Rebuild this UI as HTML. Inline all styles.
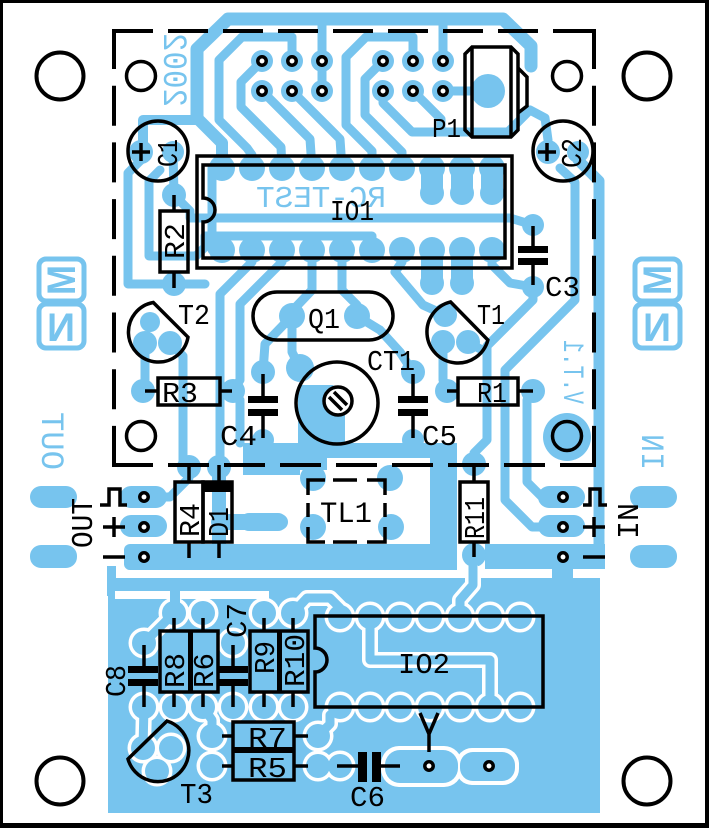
<!DOCTYPE html>
<html><head><meta charset="utf-8">
<style>
html,body{margin:0;padding:0;background:#fff;}
svg{display:block;}
text{font-family:"Liberation Mono",monospace;}
.lg{font-family:"Liberation Sans",sans-serif;font-weight:bold;}
</style></head><body>
<svg xmlns="http://www.w3.org/2000/svg" width="709" height="828" viewBox="0 0 709 828">
<rect width="709" height="828" fill="#fff"/>

<!-- ===== BLUE COPPER FILLS ===== -->
<g fill="#77c4ee">
  <!-- lower plane -->
  <rect x="108" y="578" width="492" height="235"/>
  <rect x="107" y="566" width="9" height="30"/>
  <rect x="552" y="566" width="21" height="14"/>
  <!-- ground bands -->
  <rect x="124" y="544" width="331" height="26" rx="6"/>
  <rect x="485" y="544" width="120" height="25"/>
  <rect x="430" y="443" width="27" height="127"/>
  <rect x="243" y="443" width="214" height="15"/>
  <rect x="243" y="443" width="57" height="32"/>
  <rect x="300" y="455" width="27" height="15"/>
  <!-- TL1 pads -->
  <circle cx="313" cy="478" r="13"/><circle cx="390" cy="478" r="13"/>
  <circle cx="313" cy="527" r="13"/><circle cx="391" cy="527" r="13"/>
  <rect x="240" y="513" width="47" height="18" rx="9"/>
  <!-- OUT pills / pads -->
  <rect x="30" y="486" width="47" height="22" rx="11"/>
  <rect x="30" y="545" width="47" height="23" rx="11"/>
  <rect x="120" y="486" width="47" height="22" rx="11"/>
  <rect x="120" y="515" width="47" height="22" rx="11"/>
  <!-- IN pills / pads -->
  <rect x="630" y="486" width="47" height="22" rx="11"/>
  <rect x="630" y="545" width="47" height="23" rx="11"/>
  <rect x="538" y="486" width="47" height="22" rx="11"/>
  <rect x="538" y="515" width="47" height="22" rx="11"/>
  <!-- header pins -->
  <circle cx="262" cy="61" r="11"/><circle cx="292" cy="61" r="11"/><circle cx="322" cy="61" r="11"/>
  <circle cx="262" cy="91" r="11"/><circle cx="292" cy="91" r="11"/><circle cx="322" cy="91" r="11"/>
  <circle cx="383" cy="61" r="11"/><circle cx="413" cy="61" r="11"/><circle cx="443" cy="61" r="11"/>
  <circle cx="383" cy="91" r="11"/><circle cx="413" cy="91" r="11"/><circle cx="443" cy="91" r="11"/>
  <!-- P1 pad -->
  <circle cx="488" cy="91" r="17"/>
  <!-- IO1 pads -->
  <circle cx="222" cy="168" r="13"/><circle cx="252" cy="168" r="13"/><circle cx="282" cy="168" r="13"/><circle cx="312" cy="168" r="13"/><circle cx="342" cy="168" r="13"/>
  <circle cx="372" cy="168" r="13"/><circle cx="402" cy="168" r="13"/><circle cx="432" cy="168" r="13"/><circle cx="462" cy="168" r="13"/><circle cx="492" cy="168" r="13"/>
  <circle cx="222" cy="250" r="13"/><circle cx="252" cy="250" r="13"/><circle cx="282" cy="250" r="13"/><circle cx="312" cy="250" r="13"/><circle cx="342" cy="250" r="13"/>
  <circle cx="372" cy="250" r="13"/><circle cx="402" cy="250" r="13"/><circle cx="432" cy="250" r="13"/><circle cx="462" cy="250" r="13"/><circle cx="492" cy="250" r="13"/>
  <circle cx="432" cy="193" r="12"/><circle cx="462" cy="193" r="12"/><circle cx="492" cy="193" r="12"/>
  <rect x="421" y="168" width="22" height="25"/><rect x="451" y="168" width="22" height="25"/><rect x="481" y="168" width="22" height="25"/>
  <circle cx="432" cy="283" r="12"/><circle cx="462" cy="283" r="12"/>
  <rect x="421" y="250" width="22" height="33"/><rect x="451" y="250" width="22" height="33"/>
  <!-- C1 / C2 / R2 / C3 pads -->
  <circle cx="141" cy="152" r="12"/><circle cx="173" cy="152" r="11"/>
  <circle cx="548" cy="152" r="12"/><circle cx="578" cy="152" r="11"/>
  <circle cx="174" cy="195" r="12"/><circle cx="174" cy="284" r="12"/>
  <circle cx="533" cy="225" r="11"/><circle cx="533" cy="287" r="11"/>
  <!-- T2 / T1 -->
  <circle cx="145" cy="343" r="12"/><circle cx="170" cy="343" r="12"/><circle cx="150" cy="322" r="10"/>
  <circle cx="445" cy="315" r="12"/><circle cx="443" cy="342" r="12"/><circle cx="468" cy="342" r="12"/>
  <!-- R3 / R1 / C4 / C5 -->
  <circle cx="143" cy="391" r="12"/><circle cx="233" cy="391" r="12"/>
  <circle cx="447" cy="391" r="12"/><circle cx="533" cy="391" r="12"/>
  <circle cx="263" cy="372" r="12"/><circle cx="263" cy="440" r="11"/>
  <circle cx="413" cy="372" r="12"/><circle cx="413" cy="440" r="11"/>
  <!-- Q1 / CT1 -->
  <circle cx="292" cy="316" r="13"/><circle cx="357" cy="316" r="13"/>
  <circle cx="300" cy="368" r="14"/>
  <polygon points="298,385 333,385 345,398 345,445 298,445"/>
  <!-- R4 / D1 / R11 -->
  <circle cx="189" cy="467" r="12"/><circle cx="189" cy="557" r="12"/>
  <circle cx="219" cy="467" r="12"/><circle cx="219" cy="557" r="12"/>
  <circle cx="474" cy="464" r="12"/><circle cx="474" cy="555" r="12"/>
  <!-- inner hole pad -->
  <circle cx="567" cy="437" r="24"/>
</g>

<!-- ===== BLUE TRACES ===== -->
<g fill="none" stroke="#77c4ee" stroke-width="9" stroke-linejoin="round" stroke-linecap="round">
  <path d="M197,118 L197,49 L228,19 L503,19 L531,46 L531,66" stroke-width="13"/>
  <path d="M197,112 L197,118 L222,143 L222,168" stroke-width="12"/>
  <path d="M143,152 L143,120 L197,120" stroke-width="10"/>
  <path d="M322,19 L322,91"/>
  <path d="M443,19 L443,61"/>
  <path d="M292,61 L292,37 L242,37 L219,60 L219,120 L247,148 L252,155 L252,168"/>
  <path d="M262,61 L241,82 L241,107 L281,147 L282,168"/>
  <path d="M262,91 L310,139 L312,168"/>
  <path d="M292,91 L340,139 L342,168"/>
  <path d="M413,61 L413,37 L366,37 L346,57 L346,125 L372,151 L372,168"/>
  <path d="M383,61 L365,79 L365,115 L402,152 L402,168"/>
  <path d="M383,91 L383,103 L412,132 L508,132 L530,110 L545,118 L548,140"/>
  <path d="M413,91 L441,119 L441,132"/>
  <path d="M443,91 L472,91"/>
  <path d="M578,160 L599,181 L599,556" stroke-width="11"/>
  <path d="M560,168 L575,182 L575,300 L505,370 L505,500 L532,527 L563,527"/>
  <path d="M533,287 L533,300 L487,346 L487,440 L474,453 L474,464"/>
  <path d="M533,391 L527,400 L527,482 L542,497 L563,497"/>
  <path d="M492,250 L492,265 L510,283 L533,287"/>
  <path d="M174,195 L190,211 L190,218 L510,218 L533,225"/>
  <path d="M160,170 L149,181 L149,256 L196,256 L205,247 L205,236 L372,236 L372,250"/>
  <path d="M212,168 L212,250"/>
  <path d="M141,160 L128,173 L128,284 L205,284"/>
  <path d="M173,152 L174,195"/>
  <path d="M145,343 L145,391"/>
  <path d="M170,343 L183,356 L183,460 L189,467"/>
  <path d="M252,250 L252,262 L220,294 L220,467"/>
  <path d="M282,250 L282,262 L240,304 L240,380 L233,391"/>
  <path d="M240,400 L240,443"/>
  <path d="M292,316 L265,344 L263,372"/>
  <path d="M312,250 L312,290 L293,310"/>
  <path d="M342,250 L342,290 L357,305 L357,316"/>
  <path d="M300,368 L292,352 L292,316"/>
  <path d="M357,316 L380,330 L400,352 L413,372"/>
  <path d="M402,250 L402,262 L395,272 L423,305 L445,315"/>
  <path d="M443,342 L443,380 L447,391"/>
  <path d="M468,342 L482,350"/>
  <path d="M160,497 L170,497 L189,478 L189,467"/>
  <path d="M219,475 L219,550" stroke-width="14"/>
  <path d="M219,522 L280,522" stroke-width="16"/>
</g>

<!-- ===== PLANE ISOLATION (white) ===== -->
<g fill="#fff">
  <rect x="115" y="591" width="55" height="8"/>
  <rect x="180" y="591" width="89" height="8"/>
</g>
<g fill="none" stroke="#fff" stroke-width="16" stroke-linejoin="round" stroke-linecap="round">
  <path d="M144,643 L160,627 L174,613"/>
  <path d="M293,613 L307,598 L330,598 L340,608 L340,617"/>
  <path d="M473,572 L473,585 L460,600 L460,617"/>
  <path d="M370,617 L370,660 L490,660 L490,707"/>
  <path d="M318,736 L330,724 L330,715 L340,707"/>
  <path d="M318,766 L340,766"/>
  <path d="M203,707 L212,720 L212,736"/>
  <path d="M144,707 L143,748"/>
</g>
<g fill="#fff">
  <circle cx="174" cy="613" r="15.5"/><circle cx="203" cy="613" r="15.5"/><circle cx="264" cy="613" r="15.5"/><circle cx="293" cy="613" r="15.5"/>
  <circle cx="144" cy="643" r="15.5"/><circle cx="233" cy="643" r="15.5"/>
  <circle cx="144" cy="707" r="15.5"/><circle cx="174" cy="707" r="15.5"/><circle cx="203" cy="707" r="15.5"/><circle cx="233" cy="707" r="15.5"/><circle cx="264" cy="707" r="15.5"/><circle cx="293" cy="707" r="15.5"/>
  <circle cx="340" cy="617" r="15.5"/><circle cx="370" cy="617" r="15.5"/><circle cx="400" cy="617" r="15.5"/><circle cx="430" cy="617" r="15.5"/><circle cx="460" cy="617" r="15.5"/><circle cx="490" cy="617" r="15.5"/><circle cx="520" cy="617" r="15.5"/>
  <circle cx="340" cy="707" r="15.5"/><circle cx="370" cy="707" r="15.5"/><circle cx="400" cy="707" r="15.5"/><circle cx="430" cy="707" r="15.5"/><circle cx="460" cy="707" r="15.5"/><circle cx="490" cy="707" r="15.5"/><circle cx="520" cy="707" r="15.5"/>
  <circle cx="143" cy="748" r="15.5"/><circle cx="171" cy="748" r="15.5"/><circle cx="157" cy="771" r="15.5"/>
  <circle cx="212" cy="736" r="15.5"/><circle cx="318" cy="736" r="15.5"/><circle cx="212" cy="766" r="15.5"/><circle cx="318" cy="766" r="15.5"/>
  <circle cx="340" cy="766" r="15.5"/>
  <rect x="381" y="746" width="81" height="41" rx="18"/>
  <rect x="456" y="748" width="63" height="37" rx="16"/>
</g>
<g fill="#77c4ee">
  <rect x="170" y="585" width="10" height="20"/>
  <circle cx="174" cy="613" r="12"/><circle cx="203" cy="613" r="12"/><circle cx="264" cy="613" r="12"/><circle cx="293" cy="613" r="12"/>
  <circle cx="144" cy="643" r="12"/><circle cx="233" cy="643" r="12"/>
  <circle cx="144" cy="707" r="12"/><circle cx="174" cy="707" r="12"/><circle cx="203" cy="707" r="12"/><circle cx="233" cy="707" r="12"/><circle cx="264" cy="707" r="12"/><circle cx="293" cy="707" r="12"/>
  <circle cx="340" cy="617" r="12"/><circle cx="370" cy="617" r="12"/><circle cx="400" cy="617" r="12"/><circle cx="430" cy="617" r="12"/><circle cx="460" cy="617" r="12"/><circle cx="490" cy="617" r="12"/><circle cx="520" cy="617" r="12"/>
  <circle cx="340" cy="707" r="12"/><circle cx="370" cy="707" r="12"/><circle cx="400" cy="707" r="12"/><circle cx="430" cy="707" r="12"/><circle cx="460" cy="707" r="12"/><circle cx="490" cy="707" r="12"/><circle cx="520" cy="707" r="12"/>
  <circle cx="143" cy="748" r="12"/><circle cx="171" cy="748" r="12"/><circle cx="157" cy="771" r="12"/>
  <circle cx="212" cy="736" r="12"/><circle cx="318" cy="736" r="12"/><circle cx="212" cy="766" r="12"/><circle cx="318" cy="766" r="12"/>
  <circle cx="340" cy="766" r="12"/>
  <rect x="385" y="750" width="73" height="33" rx="15"/>
  <rect x="460" y="752" width="55" height="29" rx="13"/>
</g>
<g fill="none" stroke="#77c4ee" stroke-width="9" stroke-linejoin="round" stroke-linecap="round">
  <path d="M144,643 L160,627 L174,613"/>
  <path d="M293,613 L307,598 L330,598 L340,608 L340,617"/>
  <path d="M473,566 L473,585 L460,600 L460,617"/>
  <path d="M370,617 L370,660 L490,660 L490,707"/>
  <path d="M318,736 L330,724 L330,715 L340,707"/>
  <path d="M318,766 L340,766"/>
  <path d="M203,707 L212,720 L212,736"/>
  <path d="M144,707 L143,748"/>
</g>

<!-- ===== BLUE LOGOS & MIRRORED TEXT ===== -->
<g fill="none" stroke="#77c4ee" stroke-width="5">
  <rect x="39" y="259" width="45" height="42" rx="7"/>
  <rect x="39" y="304" width="45" height="44" rx="7"/>
  <rect x="635" y="259" width="45" height="42" rx="7"/>
  <rect x="635" y="304" width="45" height="44" rx="7"/>
</g>
<g fill="#77c4ee">
  <text class="lg" font-size="40" transform="translate(61,280) rotate(-90)" x="-15" y="14" textLength="30" lengthAdjust="spacingAndGlyphs">M</text>
  <text class="lg" font-size="40" transform="translate(61,326) scale(-1,1)" x="-14" y="15" textLength="28" lengthAdjust="spacingAndGlyphs">N</text>
  <text class="lg" font-size="40" transform="translate(657,280) rotate(-90)" x="-15" y="14" textLength="30" lengthAdjust="spacingAndGlyphs">M</text>
  <text class="lg" font-size="40" transform="translate(657,326) scale(-1,1)" x="-14" y="15" textLength="28" lengthAdjust="spacingAndGlyphs">N</text>
  <text font-size="32" transform="translate(53,441) rotate(-90) scale(1,-1)" x="-29" y="11" textLength="58" lengthAdjust="spacingAndGlyphs">OUT</text>
  <text font-size="32" transform="translate(653,452) rotate(-90) scale(1,-1)" x="-18" y="11" textLength="36" lengthAdjust="spacingAndGlyphs">IN</text>
  <text font-size="30" transform="translate(574,372) rotate(-90) scale(1,-1)" x="-32" y="10" textLength="64" lengthAdjust="spacingAndGlyphs">V.T.1</text>
  <text font-size="34" transform="translate(175,70) rotate(-90) scale(1,-1)" x="-37" y="11" textLength="74" lengthAdjust="spacingAndGlyphs">2002</text>
  <text font-size="31" transform="translate(321,196) scale(-1,1)" x="-65" y="11" textLength="130" lengthAdjust="spacingAndGlyphs">RC-TEST</text>
</g>

<!-- ===== BLACK SILKSCREEN ===== -->
<g fill="none" stroke="#000" stroke-width="4">
  <line x1="113" y1="31" x2="594" y2="31" stroke-dasharray="40 15"/>
  <line x1="114" y1="29" x2="114" y2="467" stroke-dasharray="40 16.7"/>
  <line x1="594" y1="29" x2="594" y2="467" stroke-dasharray="40 16.7"/>
  <line x1="112" y1="465" x2="596" y2="465" stroke-dasharray="41 15"/>
</g>
<g fill="none" stroke="#000" stroke-width="3.5">
  <rect x="197" y="156" width="315" height="112"/>
  <path d="M203,165 H505 V258 H203 V222 A12,12 0 0 0 203,198 Z"/>
  <path d="M315,616 H543 V707 H315 V672 A12,12 0 0 0 315,648 Z"/>
  <path d="M472,47 H511 L518,54 V130 L511,137 H472 L465,130 V54 Z"/>
  <line x1="472" y1="47" x2="472" y2="137"/>
  <line x1="511" y1="47" x2="511" y2="137"/>
  <path d="M518,68 L527,77 V106 L518,113"/>
  <circle cx="158" cy="151" r="30"/>
  <circle cx="563" cy="151" r="30"/>
  <path d="M132,152 H150 M141,143 V161"/>
  <path d="M538,152 H556 M547,143 V161"/>
  <rect x="160" y="211" width="28" height="61"/>
  <path d="M174,195 V211 M174,272 V288"/>
  <path d="M533,226 V247 M533,264 V285"/>
  <path d="M153.3,302.5 L188,337.2 A30,30 0 1 1 153.3,302.5 Z"/>
  <path d="M450.5,301.9 L487.9,340 A31,31 0 1 1 450.5,301.9 Z"/>
  <path d="M128,759 L167,721 A31,31 0 1 1 128,759 Z"/>
  <rect x="253" y="292" width="140" height="48" rx="24"/>
  <circle cx="337" cy="403" r="41"/>
  <circle cx="338" cy="401" r="14" fill="#fff"/>
  <path d="M329,397 L342,410 M334,392 L347,405"/>
  <rect x="158" y="378" width="62" height="27"/>
  <path d="M145,391 H158 M220,391 H232"/>
  <rect x="458" y="378" width="60" height="27"/>
  <path d="M447,391 H458 M518,391 H533"/>
  <path d="M263,374 V397 M263,416 V438"/>
  <path d="M413,374 V397 M413,416 V438"/>
  <path d="M100,505 H109 V489 H120 V505 H127"/>
  <path d="M103,527 H125 M114,517 V537 M103,557 H125"/>
  <path d="M583,505 H590 V489 H600 V505 H607"/>
  <path d="M583,527 H605 M594,517 V537 M583,557 H605"/>
  <rect x="175" y="482" width="28" height="60"/>
  <path d="M189,465 V482 M189,542 V558"/>
  <rect x="203" y="482" width="29" height="60"/>
  <path d="M219,465 V482 M219,542 V558"/>
  <path d="M308,495 V480 H325 M333,480 H357 M367,480 H385 V495 M385,503 V517 M385,527 V542 H367 M357,542 H333 M325,542 H308 V527 M308,517 V503"/>
  <rect x="460" y="482" width="28" height="60"/>
  <path d="M474,465 V482 M474,542 V557"/>
  <path d="M144,645 V666 M144,686 V707"/>
  <rect x="160" y="631" width="58" height="61"/>
  <path d="M174,618 V631 M174,692 V707 M203,618 V631 M203,692 V707"/>
  <path d="M233,645 V666 M233,686 V707"/>
  <rect x="250" y="631" width="58" height="61"/>
  <path d="M264,618 V631 M264,692 V707 M293,618 V631 M293,692 V707"/>
  <rect x="233" y="722" width="61" height="58"/>
  <path d="M222,736 H233 M294,736 H308 M222,766 H233 M294,766 H308"/>
  <path d="M337,766 H358 M381,766 H400"/>
  <path d="M429,752 V734 M420,713 L429,734 L438,713"/>
</g>
<g fill="#000">
  <rect x="518" y="246" width="30" height="7"/><rect x="518" y="258" width="30" height="7"/>
  <rect x="248" y="396" width="30" height="7"/><rect x="248" y="409" width="30" height="7"/>
  <rect x="398" y="396" width="30" height="7"/><rect x="398" y="409" width="30" height="7"/>
  <rect x="128" y="666" width="30" height="7"/><rect x="128" y="679" width="30" height="7"/>
  <rect x="218" y="666" width="30" height="7"/><rect x="218" y="679" width="30" height="7"/>
  <rect x="358" y="752" width="9" height="30"/><rect x="372" y="752" width="9" height="30"/>
  <rect x="203" y="482" width="29" height="10"/>
  <rect x="188" y="631" width="5" height="61"/>
  <rect x="277" y="631" width="5" height="61"/>
  <rect x="233" y="747" width="61" height="6"/>
</g>

<g fill="#000" font-size="29">
  <text x="432" y="137" textLength="29" lengthAdjust="spacingAndGlyphs" font-size="27">P1</text>
  <text x="330" y="220" textLength="44" lengthAdjust="spacingAndGlyphs">IO1</text>
  <text x="545" y="296" textLength="35" lengthAdjust="spacingAndGlyphs">C3</text>
  <text x="178" y="324" textLength="32" lengthAdjust="spacingAndGlyphs">T2</text>
  <text x="477" y="324" textLength="28" lengthAdjust="spacingAndGlyphs">T1</text>
  <text x="308" y="328" textLength="32" lengthAdjust="spacingAndGlyphs">Q1</text>
  <text x="367" y="370" textLength="48" lengthAdjust="spacingAndGlyphs">CT1</text>
  <text x="162" y="402" textLength="36" lengthAdjust="spacingAndGlyphs">R3</text>
  <text x="477" y="402" textLength="30" lengthAdjust="spacingAndGlyphs">R1</text>
  <text x="220" y="445" textLength="37" lengthAdjust="spacingAndGlyphs">C4</text>
  <text x="422" y="445" textLength="35" lengthAdjust="spacingAndGlyphs">C5</text>
  <text x="320" y="522" textLength="52" lengthAdjust="spacingAndGlyphs" font-size="30">TL1</text>
  <text x="398" y="673" textLength="52" lengthAdjust="spacingAndGlyphs">IO2</text>
  <text x="248" y="747" textLength="39" lengthAdjust="spacingAndGlyphs">R7</text>
  <text x="248" y="777" textLength="39" lengthAdjust="spacingAndGlyphs">R5</text>
  <text x="180" y="803" textLength="33" lengthAdjust="spacingAndGlyphs">T3</text>
  <text x="350" y="806" textLength="35" lengthAdjust="spacingAndGlyphs">C6</text>
  <text transform="translate(167,153) rotate(-90)" x="-14" y="10" textLength="28" lengthAdjust="spacingAndGlyphs">C1</text>
  <text transform="translate(571,153) rotate(-90)" x="-15" y="10" textLength="30" lengthAdjust="spacingAndGlyphs">C2</text>
  <text transform="translate(174,241) rotate(-90)" x="-18" y="10" textLength="36" lengthAdjust="spacingAndGlyphs">R2</text>
  <text transform="translate(81,523) rotate(-90)" x="-25" y="11" textLength="50" lengthAdjust="spacingAndGlyphs" font-size="31">OUT</text>
  <text transform="translate(627,521) rotate(-90)" x="-18" y="11" textLength="36" lengthAdjust="spacingAndGlyphs" font-size="31">IN</text>
  <text transform="translate(189,520) rotate(-90)" x="-17" y="10" textLength="34" lengthAdjust="spacingAndGlyphs">R4</text>
  <text transform="translate(218,522) rotate(-90)" x="-15" y="10" textLength="30" lengthAdjust="spacingAndGlyphs">D1</text>
  <text transform="translate(474,518) rotate(-90)" x="-21" y="10" textLength="42" lengthAdjust="spacingAndGlyphs">R11</text>
  <text transform="translate(115,681) rotate(-90)" x="-16" y="10" textLength="32" lengthAdjust="spacingAndGlyphs">C8</text>
  <text transform="translate(174,670) rotate(-90)" x="-18" y="10" textLength="35" lengthAdjust="spacingAndGlyphs">R8</text>
  <text transform="translate(203,670) rotate(-90)" x="-18" y="10" textLength="35" lengthAdjust="spacingAndGlyphs">R6</text>
  <text transform="translate(236,620) rotate(-90)" x="-18" y="10" textLength="35" lengthAdjust="spacingAndGlyphs">C7</text>
  <text transform="translate(264,657) rotate(-90)" x="-17" y="10" textLength="33" lengthAdjust="spacingAndGlyphs">R9</text>
  <text transform="translate(294,661) rotate(-90)" x="-26" y="10" textLength="53" lengthAdjust="spacingAndGlyphs">R10</text>
</g>

<g fill="#fff" stroke="#000" stroke-width="3.5">
  <circle cx="262" cy="61" r="4.2"/><circle cx="292" cy="61" r="4.2"/><circle cx="322" cy="61" r="4.2"/>
  <circle cx="262" cy="91" r="4.2"/><circle cx="292" cy="91" r="4.2"/><circle cx="322" cy="91" r="4.2"/>
  <circle cx="383" cy="61" r="4.2"/><circle cx="413" cy="61" r="4.2"/><circle cx="443" cy="61" r="4.2"/>
  <circle cx="383" cy="91" r="4.2"/><circle cx="413" cy="91" r="4.2"/><circle cx="443" cy="91" r="4.2"/>
  <circle cx="144" cy="497" r="4.2"/><circle cx="144" cy="527" r="4.2"/><circle cx="144" cy="557" r="4.2"/>
  <circle cx="563" cy="497" r="4.2"/><circle cx="563" cy="527" r="4.2"/><circle cx="563" cy="557" r="4.2"/>
  <circle cx="429" cy="766" r="4.2"/><circle cx="489" cy="766" r="4.2"/>
</g>

<g fill="none" stroke="#000">
  <circle cx="60" cy="76" r="23.5" stroke-width="4"/>
  <circle cx="647" cy="76" r="23.5" stroke-width="4"/>
  <circle cx="60" cy="781" r="23.5" stroke-width="4"/>
  <circle cx="647" cy="781" r="23.5" stroke-width="4"/>
  <circle cx="141" cy="76" r="14.5" stroke-width="3.5"/>
  <circle cx="567" cy="76" r="14.5" stroke-width="3.5"/>
  <circle cx="141" cy="436" r="14.5" stroke-width="3.5"/>
  <circle cx="567" cy="436" r="14.5" stroke-width="3.5"/>
</g>

<g fill="#000">
  <rect x="0" y="0" width="709" height="3"/>
  <rect x="0" y="0" width="3" height="828"/>
  <rect x="705" y="0" width="4" height="828"/>
  <rect x="0" y="823" width="709" height="5"/>
</g>
</svg>
</body></html>
